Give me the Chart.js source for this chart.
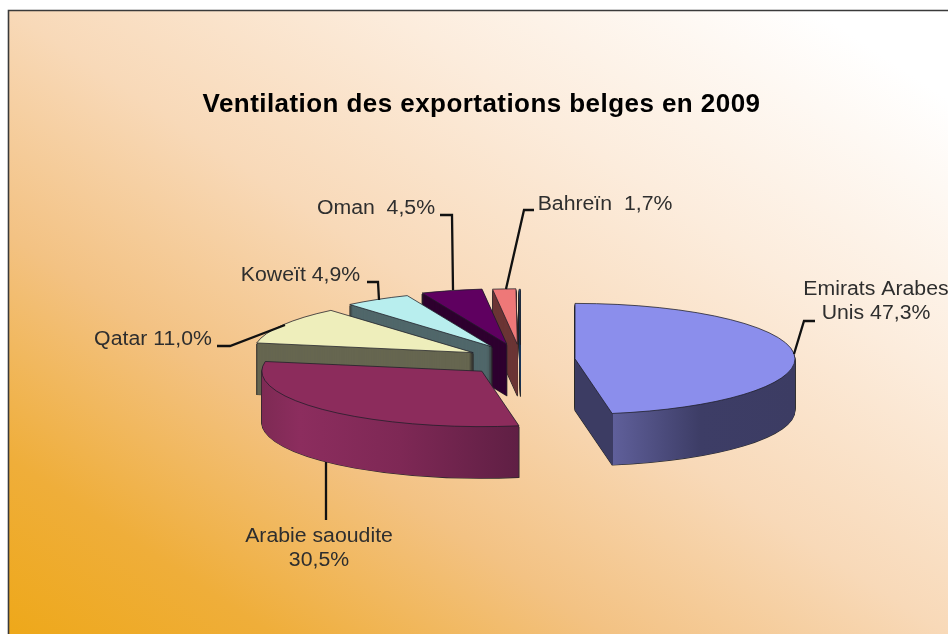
<!DOCTYPE html>
<html lang="fr">
<head>
<meta charset="utf-8">
<title>Ventilation des exportations belges en 2009</title>
<script src="https://cdn.jsdelivr.net/npm/chart.js@4"></script>
<style>
html,body{margin:0;padding:0;background:#fff;overflow:hidden}
canvas{display:block}
</style>
</head>
<body>
<canvas id="c" width="948" height="634"></canvas>
<script>
// ---- data ----
const categories = ["Emirats Arabes Unis","Arabie saoudite","Qatar","Koweït","Oman","Bahreïn",""];
const shares = [47.3,30.5,11.0,4.9,4.5,1.7,0.1];
const chartTitle = "Ventilation des exportations belges en 2009";
const labelLines = [["Emirats Arabes","Unis 47,3%"],["Arabie saoudite","30,5%"],["Qatar 11,0%"],["Koweït 4,9%"],["Oman  4,5%"],["Bahreïn  1,7%"],[]];

// ---- styles and layout ----
const topColors  = ["#8b8eec","#8c2c5c","#eeeebb","#b8eeee","#5f0060","#ee7878","#2f6da8"];
const wallColors = ["#3c3c63","#7e2a54","#666650","#50676a","#2e002f","#6b3535","#1f3a5c"];
const wallStops = {
  0:[[575,"#3c3c63"],[613,"#3c3c63"],[613.5,"#5f5f9a"],[700,"#3d3d66"],[796,"#3c3c63"]],
  1:[[262,"#7e2a54"],[300,"#8c2d5e"],[400,"#7e2855"],[520,"#5f1f44"]]
};
const pie = {cx:520.6, cy:359.5, radius:220, squash:0.252, explode:54.6, depth:51.5};
const sliceNudgeY = [0.5,2,0,-1,-2,-1.5,-1];
const labelPos = [[876,290,24],[319,537,24],[153,340,0],[300.5,276,0],[376,209,0],[605,205,0]];
const labelStretch = 1.09;
const leaders = [
  [[794,354],[804,321],[815,321]],
  [[326,462],[326,520]],
  [[217,346],[230,346],[285,325]],
  [[367,282],[378,282],[379,300]],
  [[440,215],[452,215],[453,290]],
  [[534,210],[524,210],[506,289]]
];
const frame = {x:8.5, y:10.5};

const pie3d = {
  id:"pie3d",
  beforeDraw(chart){
    const {ctx,width,height} = chart;
    ctx.save();
    ctx.fillStyle="#fff"; ctx.fillRect(0,0,width,height);
    const g = ctx.createLinearGradient(191,754,765,-110);
    g.addColorStop(0.0,"#eea81a");
    g.addColorStop(0.14,"#efae3a");
    g.addColorStop(0.32,"#f3c283");
    g.addColorStop(0.5,"#f8d9b8");
    g.addColorStop(0.7,"#fcecdc");
    g.addColorStop(0.93,"#ffffff");
    g.addColorStop(1,"#ffffff");
    ctx.fillStyle=g; ctx.fillRect(frame.x,frame.y,width,height);
    ctx.strokeStyle="#3a3a3a"; ctx.lineWidth=1.6;
    ctx.beginPath();
    ctx.moveTo(frame.x,height); ctx.lineTo(frame.x,frame.y); ctx.lineTo(width,frame.y);
    ctx.stroke();
    ctx.restore();
    ctx.letterSpacing="0.44px"; // applies to the title box, drawn next
  },
  beforeDatasetsDraw(chart){
    const {ctx} = chart;
    ctx.letterSpacing="0px";
    const arcs = chart.getDatasetMeta(0).data;
    const proto = Chart.elements.ArcElement.prototype;
    const k = pie.squash;
    const baseOpts = {borderWidth:0,borderColor:"transparent",borderAlign:"center",borderJoinStyle:"round",
      borderDash:[],borderDashOffset:0,spacing:0,offset:0,circular:true,borderRadius:0};
    const paint = (el,ax,ay,dy,fill)=>{
      const proxy = Object.create(el);
      proxy.options = Object.assign({},baseOpts,{backgroundColor:fill});
      ctx.save();
      ctx.translate(ax,ay+dy);
      ctx.scale(1,k);
      ctx.translate(-el.x,-el.y);
      proto.draw.call(proxy,ctx);
      ctx.restore();
    };
    const edge = (el,ax,ay,dy)=>{
      ctx.beginPath();
      ctx.ellipse(ax,ay+dy,el.outerRadius,el.outerRadius*k,0,el.startAngle,el.endAngle);
      ctx.lineTo(ax,ay+dy);
      ctx.closePath();
      ctx.stroke();
    };
    // back slices first so the front ones overlap them
    for(let i=arcs.length-1;i>=0;i--){
      const el = arcs[i];
      const mid = (el.startAngle+el.endAngle)/2;
      const ax = pie.cx+pie.explode*Math.cos(mid);
      const ay = pie.cy+pie.explode*k*Math.sin(mid)+sliceNudgeY[i];
      let wall = wallColors[i];
      if(wallStops[i]){
        const s = wallStops[i], x0=s[0][0], x1=s[s.length-1][0];
        const toUser = x=>x-ax+el.x;
        const g = ctx.createLinearGradient(toUser(x0),0,toUser(x1),0);
        s.forEach(p=>g.addColorStop((p[0]-x0)/(x1-x0),p[1]));
        wall = g;
      }
      ctx.save();
      ctx.strokeStyle="#2a2a2a"; ctx.lineWidth=1.1; ctx.lineJoin="round";
      for(let d=pie.depth;d>=1;d--) edge(el,ax,ay,d);
      ctx.restore();
      for(let d=pie.depth;d>=1;d--) paint(el,ax,ay,d,wall);
      paint(el,ax,ay,0,topColors[i]);
      ctx.save();
      ctx.strokeStyle="rgba(30,30,40,0.85)"; ctx.lineWidth=0.9; ctx.lineJoin="round";
      edge(el,ax,ay,0);
      ctx.restore();
    }
    return false;
  },
  afterDraw(chart){
    const {ctx} = chart;
    ctx.save();
    ctx.strokeStyle="#111"; ctx.lineWidth=2.3; ctx.lineJoin="miter";
    leaders.forEach(l=>{
      ctx.beginPath();
      l.forEach((p,i)=>i?ctx.lineTo(p[0],p[1]):ctx.moveTo(p[0],p[1]));
      ctx.stroke();
    });
    ctx.fillStyle="#2e2e2e";
    ctx.font='19.5px "Liberation Sans", Arial, sans-serif';
    ctx.textAlign="center"; ctx.textBaseline="middle";
    labelPos.forEach((p,i)=>{
      labelLines[i].forEach((t,j)=>{
        ctx.save();
        ctx.translate(p[0],p[1]+j*p[2]);
        ctx.scale(labelStretch,1);
        ctx.fillText(t,0,0);
        ctx.restore();
      });
    });
    ctx.restore();
  }
};

new Chart(document.getElementById("c"),{
  type:"pie",
  data:{labels:categories,datasets:[{data:shares,backgroundColor:topColors,borderWidth:0}]},
  options:{
    responsive:false,
    animation:false,
    radius:pie.radius,
    layout:{padding:{left:15,right:0,top:0,bottom:0}},
    events:[],
    plugins:{
      legend:{display:false},
      tooltip:{enabled:false},
      title:{display:true,text:chartTitle,color:"#000",
        font:{family:'"Liberation Sans", Arial, sans-serif',size:26,weight:"bold"},
        padding:{top:89,bottom:0}}
    }
  },
  plugins:[pie3d]
});
</script>
</body>
</html>
